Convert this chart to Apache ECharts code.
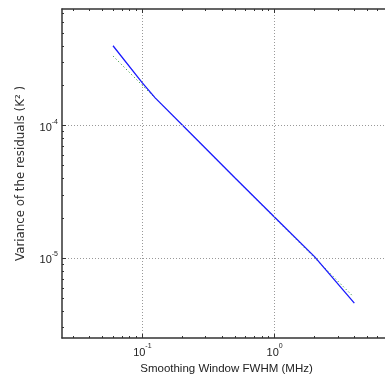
<!DOCTYPE html>
<html>
<head>
<meta charset="utf-8">
<script src="https://cdn.jsdelivr.net/npm/echarts@6/dist/echarts.min.js"></script>
<style>
html,body{margin:0;padding:0;background:#fff;}
#chart{width:385px;height:380px;}
</style>
</head>
<body>
<div id="chart"></div>
<script>
// Data
const smoothingWindow = [0.06, 0.1, 0.125, 0.25, 0.5, 1, 2, 4];
const residualVariance = [4.0e-4, 2.1e-4, 1.62e-4, 8.1e-5, 4.05e-5, 2.04e-5, 1.03e-5, 4.6e-6];
const fitWindow = [0.06, 3.85];
const fitVariance = [3.35e-4, 5.25e-6];
const xMajorTicks = [0.1, 1];
const yMajorTicks = [1e-5, 1e-4];
const xMinorTicks = [0.03,0.04,0.05,0.06,0.07,0.08,0.09,0.2,0.3,0.4,0.5,0.6,0.7,0.8,0.9,2,3,4,5,6,7];
const yMinorTicks = [3e-6,4e-6,5e-6,6e-6,7e-6,8e-6,9e-6,2e-5,3e-5,4e-5,5e-5,6e-5,7e-5,8e-5,9e-5,2e-4,3e-4,4e-4,5e-4,6e-4,7e-4];
const xRange = [0.0247, 7.57];
const yRange = [2.51e-6, 7.57e-4];

const FONT = 'Liberation Sans, Arial, sans-serif';

function decadeLabel(v) {
  const l = Math.log10(v);
  const e = Math.round(l);
  if (Math.abs(l - e) > 1e-6) return '';
  return '{b|10}{s|' + e + '}';
}
const richLabel = {
  b: {fontSize: 11, fontFamily: FONT, color: '#222', lineHeight: 15, verticalAlign: 'bottom'},
  s: {fontSize: 7, fontFamily: FONT, color: '#222', lineHeight: 9, verticalAlign: 'top'}
};

function majorAxis(pos, isX, showLabel, name) {
  const ax = {
    type: 'log', logBase: 10, position: pos,
    min: isX ? xRange[0] : yRange[0], max: isX ? xRange[1] : yRange[1],
    axisLine: {show: true, onZero: false, lineStyle: {color: '#333', width: 1.5}},
    axisTick: {show: true, inside: true, length: 4, customValues: isX ? xMajorTicks : yMajorTicks, lineStyle: {color: '#333', width: 1}},
    axisLabel: {show: showLabel, customValues: isX ? xMajorTicks : yMajorTicks, formatter: decadeLabel, rich: richLabel, margin: isX ? 5 : 4},
    splitLine: {show: showLabel, lineStyle: {color: '#999', type: [1, 2], width: 1}},
    minorTick: {show: false},
    z: 5
  };
  if (name) {
    ax.name = name;
    ax.nameLocation = 'middle';
    ax.nameTextStyle = isX
      ? {fontSize: 11.5, fontFamily: FONT, color: '#222'}
      : {fontSize: 11.8, fontFamily: 'DejaVu Sans, sans-serif', color: '#333'};
    ax.nameGap = isX ? 22 : 35;
  }
  return ax;
}
function minorAxis(pos, isX) {
  return {
    type: 'log', logBase: 10, position: pos,
    min: isX ? xRange[0] : yRange[0], max: isX ? xRange[1] : yRange[1],
    axisLine: {show: false},
    axisTick: {show: true, inside: true, length: 2, customValues: isX ? xMinorTicks : yMinorTicks, lineStyle: {color: '#333', width: 1}},
    axisLabel: {show: false},
    splitLine: {show: false},
    z: 5
  };
}

const chart = echarts.init(document.getElementById('chart'), null, {renderer: 'canvas'});
chart.setOption({
  animation: false,
  backgroundColor: '#fff',
  grid: {left: 62, top: 9, width: 329, height: 329, show: false, containLabel: false, outerBoundsMode: 'none'},
  xAxis: [
    majorAxis('bottom', true, true, 'Smoothing Window FWHM (MHz)'),
    minorAxis('bottom', true),
    majorAxis('top', true, false),
    minorAxis('top', true)
  ],
  yAxis: [
    majorAxis('left', false, true, 'Variance of the residuals (K² )'),
    minorAxis('left', false),
    majorAxis('right', false, false),
    minorAxis('right', false)
  ],
  series: [
    {
      type: 'line', xAxisIndex: 0, yAxisIndex: 0, showSymbol: false, symbol: 'none',
      data: fitWindow.map((x, i) => [x, fitVariance[i]]),
      lineStyle: {color: '#3a9a3a', width: 1, type: [1.2, 2.5]},
      z: 3
    },
    {
      type: 'line', xAxisIndex: 0, yAxisIndex: 0, showSymbol: false, symbol: 'none',
      data: smoothingWindow.map((x, i) => [x, residualVariance[i]]),
      lineStyle: {color: '#1a1aff', width: 1.3},
      z: 4
    }
  ]
});
</script>
</body>
</html>
